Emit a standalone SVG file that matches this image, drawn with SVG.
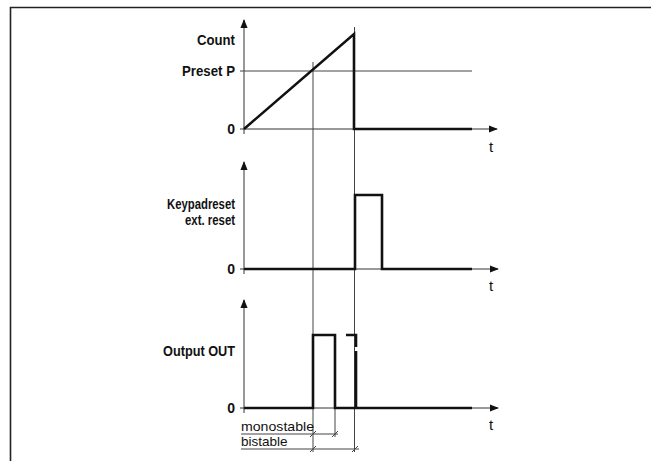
<svg xmlns="http://www.w3.org/2000/svg" width="651" height="461" viewBox="0 0 651 461">
<style>
.lbl{font-family:"Liberation Sans",Arial,sans-serif;font-weight:bold;font-size:14px;fill:#111;text-anchor:end}
.t{font-family:"Liberation Sans",Arial,sans-serif;font-size:15px;fill:#111;text-anchor:middle}
.dim{font-family:"Liberation Sans",Arial,sans-serif;font-size:13.5px;fill:#111}
.thin{stroke:#444;stroke-width:1;fill:none}
.thick{stroke:#111;stroke-width:2.6;fill:none;stroke-linejoin:miter}
.axis{stroke:#333;stroke-width:1;fill:none}
.frame{stroke:#222;stroke-width:1.6;fill:none}
</style>
<defs>
<marker id="ah" viewBox="0 0 10 10" refX="9" refY="5" markerWidth="9" markerHeight="9" markerUnits="userSpaceOnUse" orient="auto">
<path d="M0,1 L10,5 L0,9 Z" fill="#111"/>
</marker>
</defs>
<rect width="651" height="461" fill="#fff"/>
<g id="frame">
<path class="frame" d="M10.5,461 V7.5 H651"/>
</g>
<g id="connectors">
<path class="axis" d="M244,134 V20" marker-end="url(#ah)"/>
<path class="axis" d="M240,129 H497" marker-end="url(#ah)"/>
<path class="thin" d="M240,71 H472"/>
<path class="axis" d="M244,274 V162" marker-end="url(#ah)"/>
<path class="axis" d="M240,269 H498" marker-end="url(#ah)"/>
<path class="axis" d="M244,413 V300" marker-end="url(#ah)"/>
<path class="axis" d="M240,408 H498" marker-end="url(#ah)"/>
<path class="thin" d="M313,62 V452"/>
<path class="thin" d="M354.5,27 V452"/>
<path class="thin" d="M335,408 V437"/>
<path class="thin" d="M241,434 H338"/>
<path class="thin" d="M241,449 H359"/>
<path class="thin" d="M310,437 L316,431 M332,437 L338,431 M310,452 L316,446 M352,452 L358,446"/>
</g>
<g id="signal-count">
<path class="thick" d="M244,129 L354,34 V129 H472"/>
</g>
<g id="signal-reset">
<path class="thick" d="M244,269 H355 V195 H382 V269 H472"/>
</g>
<g id="signal-output">
<path class="thick" d="M244,408 H313 V335 H335 V408 H356 H472"/>
<path class="thick" d="M346,335 H356 V408" stroke-dasharray="22,4,100"/>
</g>
<g id="labels">
<text class="lbl" x="235" y="45" textLength="38" lengthAdjust="spacingAndGlyphs">Count</text>
<text class="lbl" x="235" y="76" textLength="53" lengthAdjust="spacingAndGlyphs">Preset P</text>
<text class="lbl" x="235" y="134">0</text>
<text class="t" x="491" y="152">t</text>
<text class="lbl" x="235" y="209" textLength="68" lengthAdjust="spacingAndGlyphs">Keypadreset</text>
<text class="lbl" x="235" y="225" textLength="50" lengthAdjust="spacingAndGlyphs">ext. reset</text>
<text class="lbl" x="235" y="274">0</text>
<text class="t" x="491" y="291">t</text>
<text class="lbl" x="235" y="356" textLength="72" lengthAdjust="spacingAndGlyphs">Output OUT</text>
<text class="lbl" x="235" y="413">0</text>
<text class="t" x="491" y="430">t</text>
<text class="dim" x="241" y="431" textLength="73" lengthAdjust="spacingAndGlyphs">monostable</text>
<text class="dim" x="241" y="446">bistable</text>
</g>
</svg>
